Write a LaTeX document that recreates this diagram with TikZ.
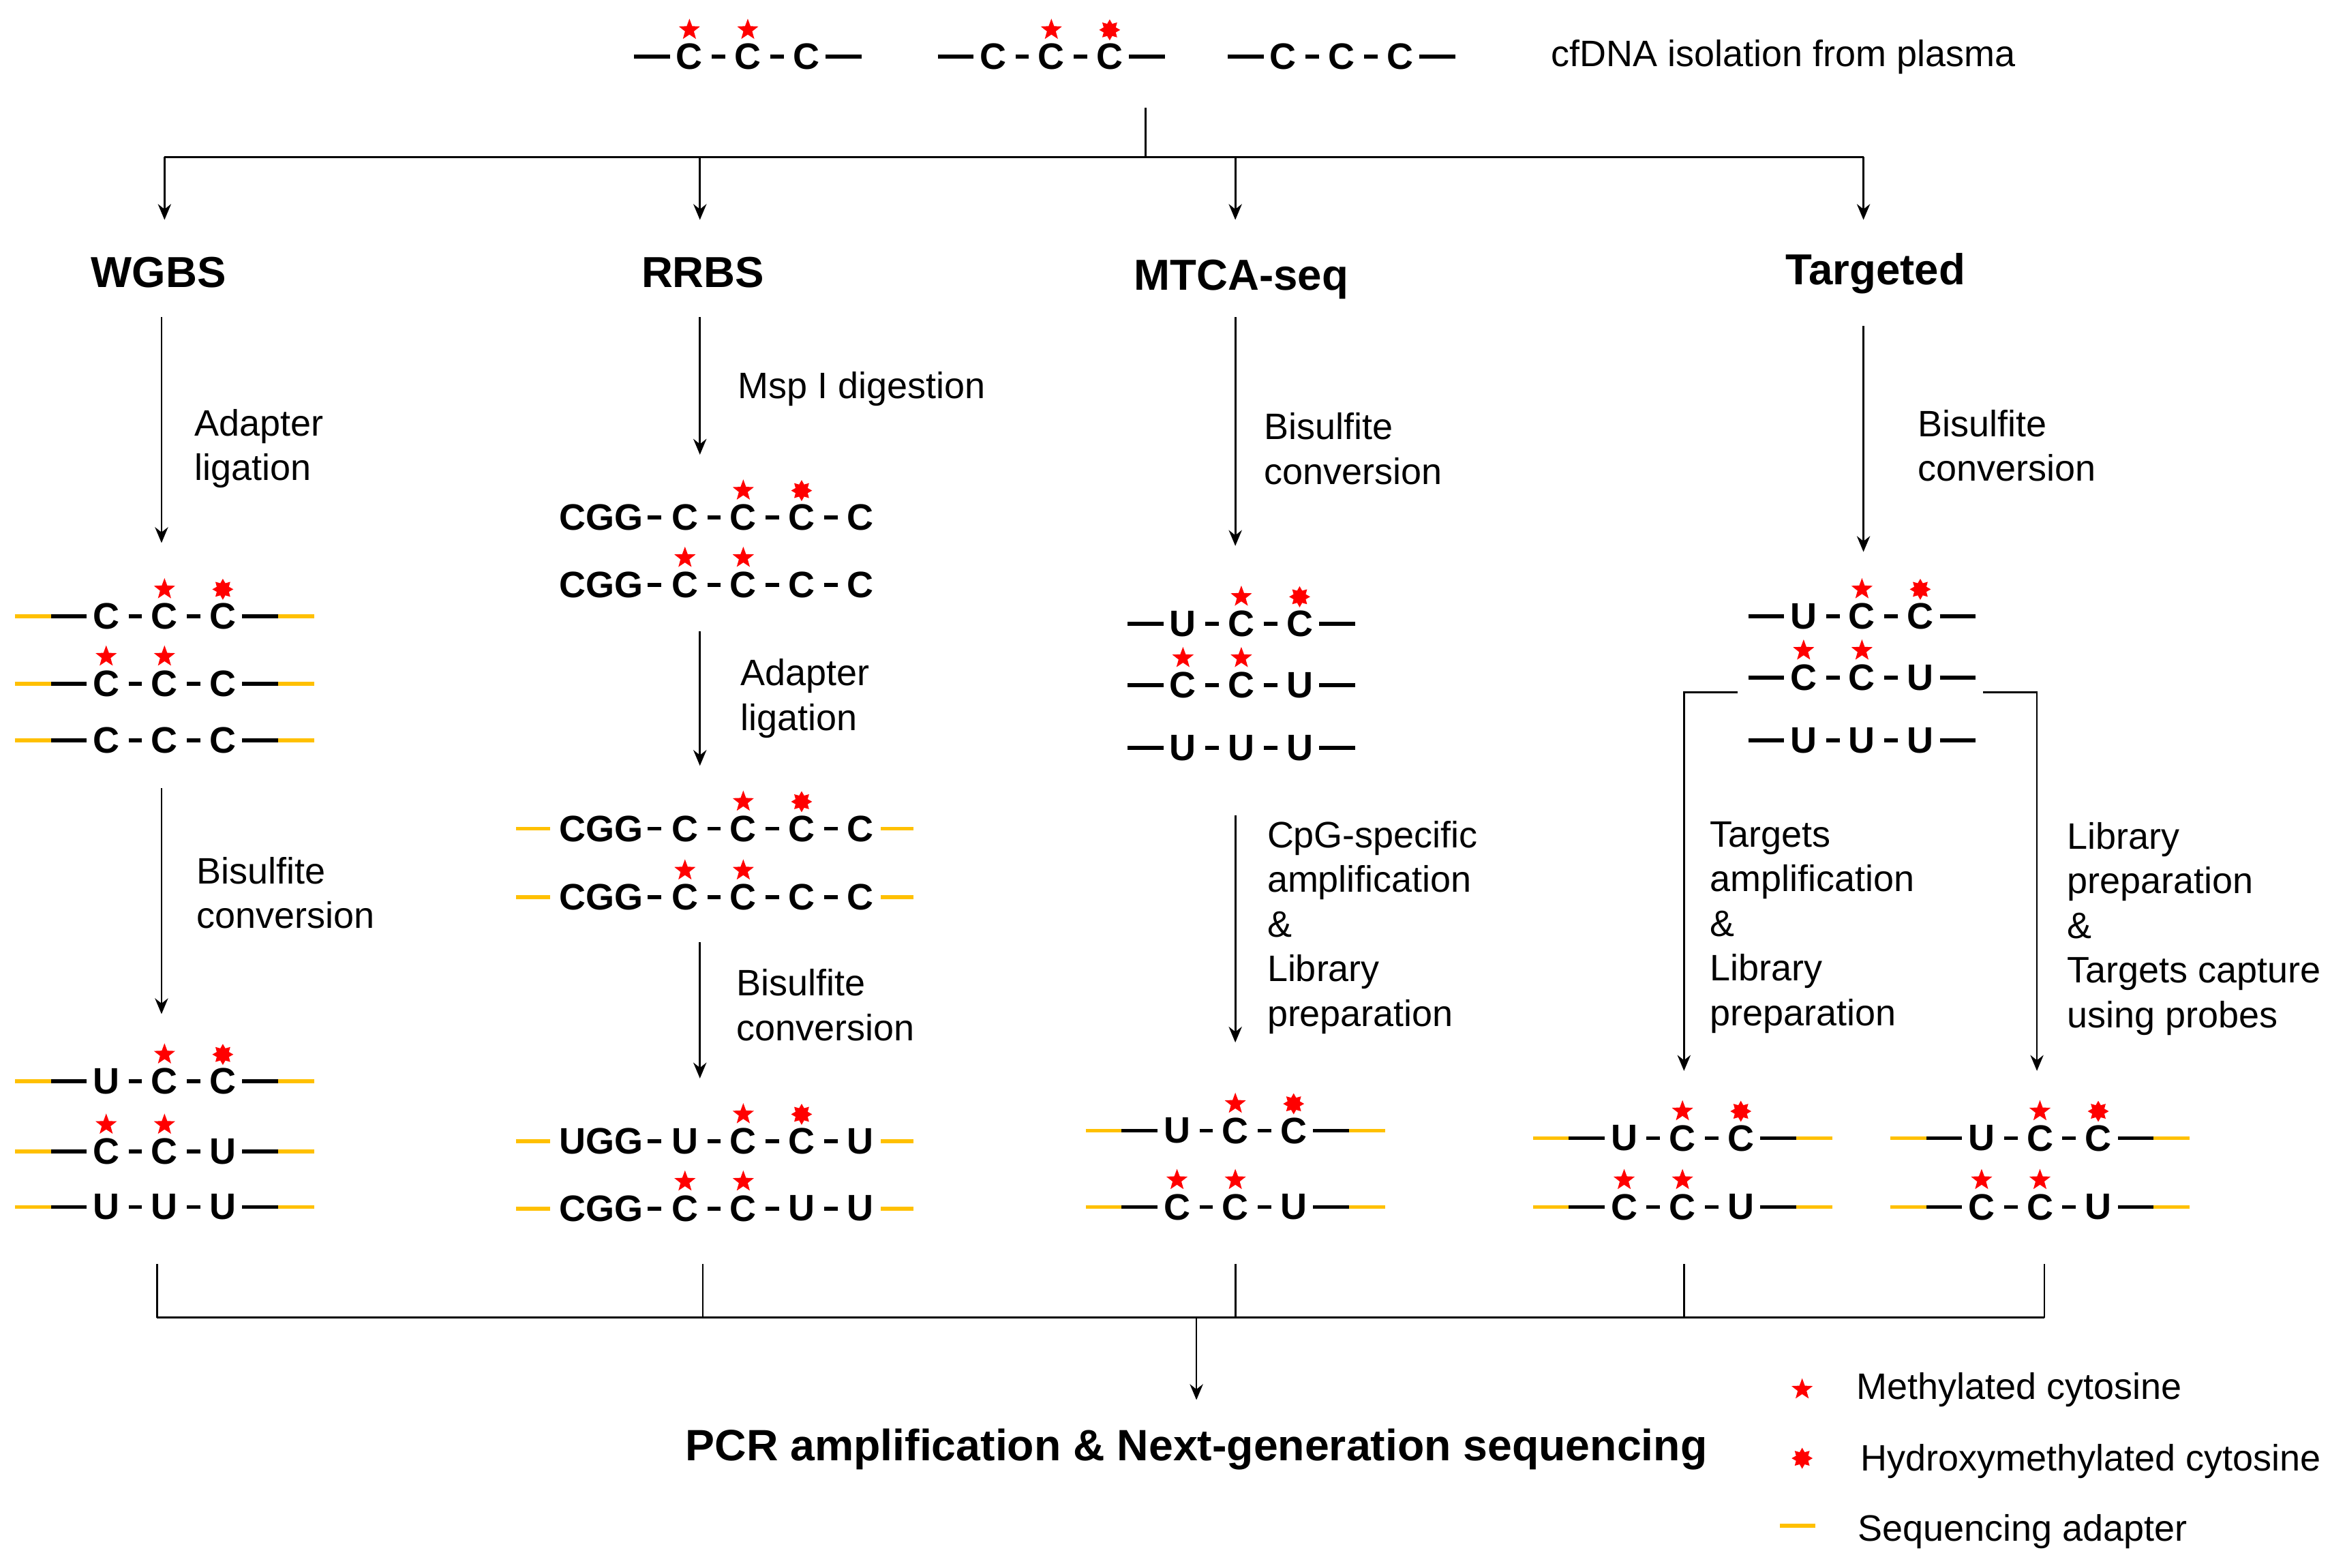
\documentclass[tikz,border=0pt]{standalone}
\usepackage{fontspec}
\setmainfont{Liberation Sans}
\usetikzlibrary{shapes.geometric,arrows.meta}
\tikzset{
 let/.style={font=\fontsize{14}{16}\selectfont\bfseries,inner sep=0pt},
 mstar/.style={star,star points=5,star point ratio=2.4,fill=red,draw=none,minimum size=8.5pt,inner sep=0pt},
 hstar/.style={star,star points=8,star point ratio=1.6,fill=red,draw=none,minimum size=8pt,inner sep=0pt},
 dna/.style={line width=1.5pt,black},
 ada/.style={line width=1.5pt,color={rgb,255:red,255;green,192;blue,0}},
 conn/.style={line width=0.7pt,black},
 arr/.style={conn,-{Stealth[length=6pt,width=5pt]}},
 lab/.style={font=\fontsize{14}{17}\selectfont,align=left,anchor=west,inner sep=0pt},
 ttl/.style={font=\fontsize{16.5}{19}\selectfont\bfseries,inner sep=0pt},
}
\newcommand\cmark[3]{%
 \ifnum#3=1 \node[mstar] at (#1,#2-18){};\fi
 \ifnum#3=2 \node[hstar] at (#1,#2-18){};\fi}
\newcommand\strandA[4]{%
 \foreach \l/\m [count=\i] in {#3}{
   \pgfmathsetmacro\xx{#1+(\i-1)*39}
   \node[let] at (\xx,#2) {\l};
   \cmark{\xx}{#2}{\m}
   \ifnum\i>1 \draw[dna] (\xx-24,#2)--(\xx-15,#2);\fi
   \xdef\lastx{\xx}
 }
 \draw[dna] (#1-37,#2)--(#1-13,#2);
 \draw[dna] (\lastx+13,#2)--(\lastx+37,#2);
 \ifnum#4=1
  \draw[ada] (#1-61,#2)--(#1-37,#2);
  \draw[ada] (\lastx+37,#2)--(\lastx+61,#2);
 \fi}
\newcommand\strandR[5]{%
 \node[let] at (#1-56,#2) {#3};
 \draw[dna] (#1-25,#2)--(#1-16,#2);
 \foreach \l/\m [count=\i] in {#4}{
   \pgfmathsetmacro\xx{#1+(\i-1)*39}
   \node[let] at (\xx,#2) {\l};
   \cmark{\xx}{#2}{\m}
   \ifnum\i>1 \draw[dna] (\xx-24,#2)--(\xx-15,#2);\fi
   \xdef\lastx{\xx}
 }
 \ifnum#5=1
  \draw[ada] (#1-113,#2)--(#1-90,#2);
  \draw[ada] (\lastx+14,#2)--(\lastx+36,#2);
 \fi}
\begin{document}
\begin{tikzpicture}[x=0.02cm,y=-0.02cm]
\useasboundingbox (0,0) rectangle (1568,1048);
\strandA{461}{38}{C/1,C/1,C/0}{0}
\strandA{664}{38}{C/0,C/1,C/2}{0}
\strandA{858}{38}{C/0,C/0,C/0}{0}
\node[lab] (iso) at (1037,38) {cfDNA isolation from plasma};
\coordinate (t0) at (766,72); \coordinate (t1) at (766,105);
\coordinate (hl) at (110,105); \coordinate (hr) at (1246,105);
\draw[conn] (t0)--(t1);
\draw[conn] (hl)--(hr);
\node[ttl] (wgbs) at (106,182) {WGBS};
\node[ttl] (rrbs) at (470,182) {RRBS};
\node[ttl] (mtca) at (830,187) {MTCA-seq};
\node[ttl] (targ) at (1254,183) {Targeted};
\foreach \x in {110,468,826,1246}
  \draw[arr] (\x,105)--(\x,147);
% WGBS
\draw[arr] (108,212)--(108,363);
\node[lab] (w1) at (130,300) {Adapter\\ligation};
\strandA{71}{412}{C/0,C/1,C/2}{1}
\strandA{71}{457}{C/1,C/1,C/0}{1}
\strandA{71}{495}{C/0,C/0,C/0}{1}
\draw[arr] (108,527)--(108,678);
\node[lab] (w2) at (131,597) {Bisulfite\\conversion};
\strandA{71}{723}{U/0,C/1,C/2}{1}
\strandA{71}{770}{C/1,C/1,U/0}{1}
\strandA{71}{807}{U/0,U/0,U/0}{1}
% RRBS
\draw[arr] (468,212)--(468,304);
\node[lab] (r1) at (493,260) {Msp I digestion};
\strandR{458}{346}{CGG}{C/0,C/1,C/2,C/0}{0}
\strandR{458}{391}{CGG}{C/1,C/1,C/0,C/0}{0}
\draw[arr] (468,422)--(468,512);
\node[lab] (r2) at (495,467) {Adapter\\ligation};
\strandR{458}{554}{CGG}{C/0,C/1,C/2,C/0}{1}
\strandR{458}{600}{CGG}{C/1,C/1,C/0,C/0}{1}
\draw[arr] (468,630)--(468,721);
\node[lab] (r3) at (492,672) {Bisulfite\\conversion};
\strandR{458}{763}{UGG}{U/0,C/1,C/2,U/0}{1}
\strandR{458}{808}{CGG}{C/1,C/1,U/0,U/0}{1}
% MTCA
\draw[arr] (826,212)--(826,365);
\node[lab] (m1) at (845,300) {Bisulfite\\conversion};
\strandA{791}{417}{U/0,C/1,C/2}{0}
\strandA{791}{458}{C/1,C/1,U/0}{0}
\strandA{791}{500}{U/0,U/0,U/0}{0}
\draw[arr] (826,545)--(826,697);
\node[lab] (m2) at (847,620) {CpG-specific\\amplification\\\&\\Library\\preparation};
\strandA{787}{756}{U/0,C/1,C/2}{1}
\strandA{787}{807}{C/1,C/1,U/0}{1}
% Targeted
\draw[arr] (1246,218)--(1246,369);
\node[lab] (g1) at (1282,298) {Bisulfite\\conversion};
\strandA{1206}{412}{U/0,C/1,C/2}{0}
\strandA{1206}{453}{C/1,C/1,U/0}{0}
\strandA{1206}{495}{U/0,U/0,U/0}{0}
\draw[arr] (1162,463)--(1126,463)--(1126,716);
\draw[arr] (1326,463)--(1362,463)--(1362,716);
\node[lab] (g2) at (1143,620) {Targets\\amplification\\\&\\Library\\preparation};
\node[lab] (g3) at (1382,621) {Library\\preparation\\\&\\Targets capture\\using probes};
\strandA{1086}{761}{U/0,C/1,C/2}{1}
\strandA{1086}{807}{C/1,C/1,U/0}{1}
\strandA{1325}{761}{U/0,C/1,C/2}{1}
\strandA{1325}{807}{C/1,C/1,U/0}{1}
% bottom
\foreach \x in {105,470,826,1126,1367} \draw[conn] (\x,845)--(\x,881);
\draw[conn] (105,881)--(1367,881);
\node[font=\fontsize{16.7}{19}\selectfont\bfseries,inner sep=0pt] (pcr) at (800,969) {PCR amplification \& Next-generation sequencing};
\coordinate (b0) at (800,881);
\draw[arr] (b0)--(800,936);
% legend
\node[mstar] (l1) at (1205,929) {};
\node[lab] (l1t) at (1241,929) {Methylated cytosine};
\node[hstar] (l2) at (1205,975) {};
\node[lab] (l2t) at (1244,977) {Hydroxymethylated cytosine};
\draw[ada] (1190,1020)--(1214,1020);
\node[lab] (l3t) at (1242,1024) {Sequencing adapter};
\end{tikzpicture}
\end{document}
